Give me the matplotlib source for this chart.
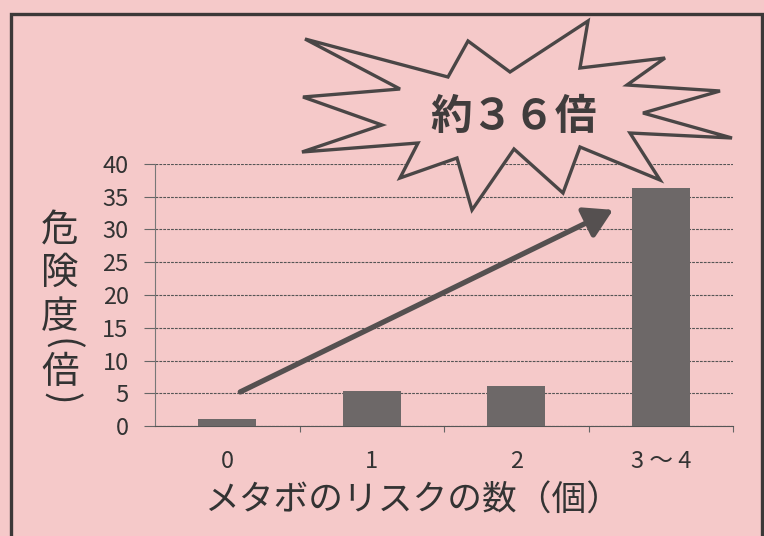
import matplotlib
matplotlib.use('Agg')
import matplotlib.pyplot as plt
from matplotlib.patches import Polygon, Rectangle
import numpy as np

plt.rcParams['font.family'] = ['Noto Sans CJK JP', 'DejaVu Sans']

# データ ---------------------------------------------
categories = ['0', '1', '2', '3 ～ 4']
risk_values = [1.0, 5.3, 6.1, 36.3]
y_ticks = [0, 5, 10, 15, 20, 25, 30, 35, 40]
ylabel_chars = ['危', '険', '度', '(', '倍', ')']
xlabel_text = 'メタボのリスクの数（個）'
callout_text = '約３６倍'
# 矢印 (データ座標)
arrow_from = (0.09, 5.2)
arrow_to = (2.67, 33.0)
# 吹き出し(爆発形)の頂点 (画像ピクセル)
star_pts = [(305, 39), (448, 77), (468, 41), (510, 72), (588, 21), (580, 68),
            (665, 58), (627, 85), (720, 91), (643, 113), (732, 138), (630, 133),
            (660, 180), (580, 147), (563, 193), (514, 149), (472, 210), (457, 158),
            (400, 178), (418, 143), (302, 152), (382, 125), (303, 97), (400, 89)]

W, H = 764, 536
BG = '#f5c9c9'

def fx(x):
    return x / W

def fy(y):
    return 1 - y / H

fig = plt.figure(figsize=(W / 100, H / 100), dpi=100, facecolor=BG)
ax = fig.add_axes([fx(155), fy(426), fx(733) - fx(155), fy(164) - fy(426)])
ax.set_facecolor(BG)

x = np.arange(len(categories))
ax.bar(x, risk_values, width=0.4, color='#6d6868', zorder=3)

ax.set_xlim(-0.5, len(categories) - 0.5)
ax.set_ylim(0, 40)
ax.set_yticks(y_ticks)
ax.yaxis.grid(True, color='#555555', linestyle=(0, (2.5, 1)), linewidth=0.8)
ax.set_axisbelow(True)

for s in ['top', 'right']:
    ax.spines[s].set_visible(False)
ax.spines['left'].set_color('#777777')
ax.spines['left'].set_linewidth(0.8)
ax.spines['bottom'].set_color('#555555')
ax.spines['bottom'].set_linestyle((0, (2.5, 1)))
ax.spines['bottom'].set_linewidth(0.8)

ax.tick_params(axis='y', length=8, width=0.8, color='#666666', pad=11,
               labelsize=17, labelcolor='#333333')
ax.set_xticks(x)
ax.set_xticklabels(categories)
ax.set_xticks(np.arange(0.5, len(categories), 1), minor=True)
ax.tick_params(axis='x', which='major', length=0, pad=17, labelsize=17,
               labelcolor='#333333')
ax.tick_params(axis='x', which='minor', length=4, width=0.8, color='#666666')

# 矢印
ax.annotate('', xy=arrow_to, xytext=arrow_from,
            arrowprops=dict(arrowstyle='-|>,head_length=0.85,head_width=0.5',
                            lw=3.8, color='#555050', shrinkA=0, shrinkB=0,
                            mutation_scale=20),
            annotation_clip=False, zorder=5)

# 軸ラベル (縦書き)
ylabel_y = [231, 273, 318, 344, 372, 398]
for ch, yy in zip(ylabel_chars, ylabel_y):
    rot = -90 if ch in '()' else 0
    fig.text(fx(60), fy(yy), ch, fontsize=27, color='#333333',
             ha='center', va='center', rotation=rot)
fig.text(fx(413), fy(501), xlabel_text, fontsize=25, color='#333333',
         ha='center', va='center')

# 吹き出し
star = Polygon([(fx(a), fy(b)) for a, b in star_pts], closed=True,
               transform=fig.transFigure, facecolor=BG, edgecolor='#4a4646',
               linewidth=2.4, joinstyle='miter', zorder=10)
fig.patches.append(star)
fig.text(fx(514), fy(117), callout_text, fontsize=30, fontweight='bold',
         color='#403c3c', ha='center', va='center', zorder=11)

# 外枠
frame = Rectangle((fx(11), fy(545)), fx(762) - fx(11), fy(14) - fy(545),
                  transform=fig.transFigure, fill=False, edgecolor='#3c3838',
                  linewidth=2.4, zorder=12)
fig.patches.append(frame)

fig.savefig('out.png', dpi=100, facecolor=BG)
